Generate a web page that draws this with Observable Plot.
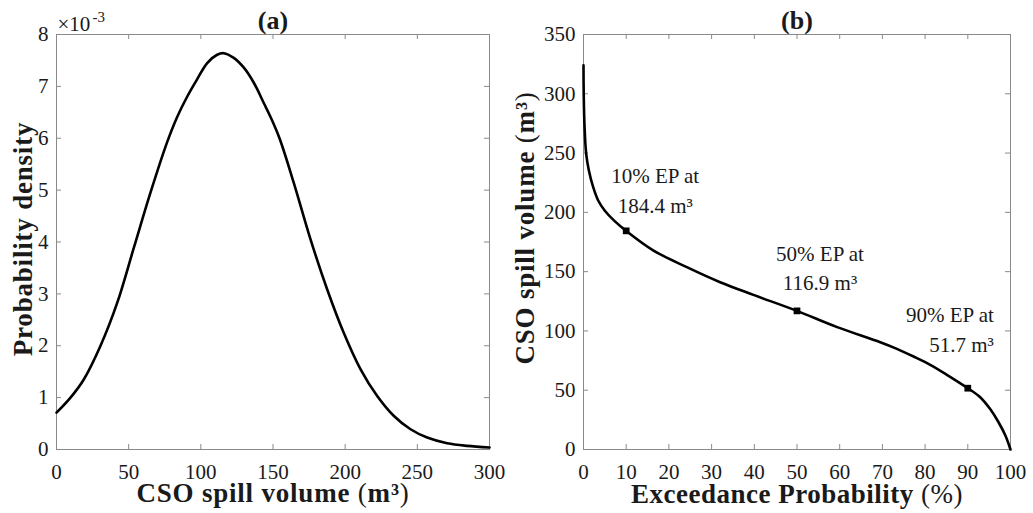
<!DOCTYPE html>
<html><head><meta charset="utf-8">
<script src="https://cdn.jsdelivr.net/npm/d3@7"></script>
<script src="https://cdn.jsdelivr.net/npm/@observablehq/plot@0.6"></script>
<style>
body{margin:0;background:#fff;}
#wrap{display:flex;width:1033px;height:513px;}
#wrap svg{flex:0 0 auto;}
#wrap svg text{font-family:"Liberation Serif","Times New Roman",serif;}
</style></head><body><div id="wrap"></div>
<script>
// ---- Panel (a): probability density of CSO spill volume ----
const pdfVolume  = [0, 9.7, 18.9, 30.5, 42.1, 53.6, 65.1, 76.6, 83.6, 90.5, 97.5, 104.4, 111.3, 115.9, 122.8, 129.8, 136.7, 143.6, 148.3, 154.5, 164.4, 176, 187.5, 199, 210.6, 222.2, 233.6, 245.3, 256.8, 270.7, 284.5, 300];
const pdfDensity = [0.00071, 0.00100, 0.00135, 0.00200, 0.00283, 0.00389, 0.00495, 0.00592, 0.00641, 0.00680, 0.00714, 0.00745, 0.00761, 0.00764, 0.00755, 0.00736, 0.00707, 0.00668, 0.00641, 0.00600, 0.00514, 0.00405, 0.00309, 0.00225, 0.00155, 0.00103, 0.00065, 0.00039, 0.00023, 0.00012, 0.00007, 0.00004];
const xTicksA = [0, 50, 100, 150, 200, 250, 300];
const yTicksA = [0, 0.001, 0.002, 0.003, 0.004, 0.005, 0.006, 0.007, 0.008];

// ---- Panel (b): exceedance probability curve ----
const exceedProb = [0, 0.05, 0.25, 0.63, 1.26, 2.27, 3.44, 5.0, 7.3, 10, 16.4, 24.2, 32.0, 39.8, 50, 59.4, 69.5, 73.4, 77.3, 81.2, 85.1, 90, 92.9, 95.2, 97.2, 98.8, 100];
const spillVol   = [324, 300, 271.8, 249.4, 235.3, 221.2, 210, 201.4, 192.6, 184.4, 167.8, 153.8, 141.1, 130.4, 116.9, 103.2, 90.5, 84.9, 78.4, 71.4, 63.0, 51.7, 44.1, 34.3, 23.0, 11.8, 0];
const markerEP  = [10, 50, 90];
const markerVol = [184.4, 116.9, 51.7];
const markerText = ["10% EP at\n184.4 m³", "50% EP at\n116.9 m³", "90% EP at\n51.7 m³"];
const xTicksB = [0, 10, 20, 30, 40, 50, 60, 70, 80, 90, 100];
const yTicksB = [0, 50, 100, 150, 200, 250, 300, 350];

const SERIF = "Liberation Serif, Times New Roman, serif";
const AXIS = "#8a8a8a";
const INK = "#1a1a1a";
const H = 513, MT = 34, MB = 64;
const FH = H - MT - MB;
const TICK = 5;

function frameTicks(xt, yt, fw) {
  return [
    Plot.tickX(xt, {x: d => d, stroke: AXIS, insetTop: FH - TICK}),
    Plot.tickX(xt, {x: d => d, stroke: AXIS, insetBottom: FH - TICK}),
    Plot.tickY(yt, {y: d => d, stroke: AXIS, insetRight: fw - TICK}),
    Plot.tickY(yt, {y: d => d, stroke: AXIS, insetLeft: fw - TICK}),
    Plot.frame({stroke: AXIS})
  ];
}
const labelStyle = {fontSize: 27, fontWeight: "bold", fill: INK, fontFamily: SERIF, textAnchor: "middle", lineAnchor: "middle"};

// Panel (a)
const WA = 508, MLA = 56, MRA = 19;
const pdfData = pdfVolume.map((v, i) => ({v, d: pdfDensity[i]}));
const plotA = Plot.plot({
  width: WA, height: H,
  marginLeft: MLA, marginRight: MRA, marginTop: MT, marginBottom: MB,
  style: {fontFamily: SERIF, background: "white", overflow: "visible"},
  x: {domain: [0, 300]},
  y: {domain: [0, 0.008]},
  marks: [
    ...frameTicks(xTicksA, yTicksA, WA - MLA - MRA),
    Plot.axisX({ticks: xTicksA, tickSize: 0, tickPadding: 15, fontSize: 21, fontFamily: SERIF, fill: INK, label: null}),
    Plot.axisY({ticks: yTicksA, tickSize: 0, tickPadding: 8, fontSize: 21, fontFamily: SERIF, fill: INK, label: null, tickFormat: d => String(Math.round(d * 1000))}),
    Plot.line(pdfData, {x: "v", y: "d", curve: "catmull-rom", stroke: "black", strokeWidth: 2.6}),
    Plot.text(["CSO spill volume (m³)"], {frameAnchor: "bottom", dy: 44, ...labelStyle}),
    Plot.text(["Probability density"], {frameAnchor: "left", rotate: -90, dx: -33, dy: -3, ...labelStyle}),
    Plot.text(["(a)"], {frameAnchor: "top", dy: -14, ...labelStyle, fontSize: 26}),
    Plot.text(["×10"], {frameAnchor: "top-left", textAnchor: "start", lineAnchor: "middle", dx: 1, dy: -10, fontSize: 21, fill: INK, fontFamily: SERIF}),
    Plot.text(["-3"], {frameAnchor: "top-left", textAnchor: "start", lineAnchor: "middle", dx: 36, dy: -17, fontSize: 15, fill: INK, fontFamily: SERIF})
  ]
});

// Panel (b)
const WB = 1033 - WA, MLB = 75, MRB = 23;
const epData = exceedProb.map((p, i) => ({p, v: spillVol[i]}));
const markers = markerEP.map((p, i) => ({p, v: markerVol[i], t: markerText[i]}));
const noteStyle = {x: "p", y: "v", text: "t", fontSize: 21, lineHeight: 1.42, fill: INK, fontFamily: SERIF};
const plotB = Plot.plot({
  width: WB, height: H,
  marginLeft: MLB, marginRight: MRB, marginTop: MT, marginBottom: MB,
  style: {fontFamily: SERIF, background: "white", overflow: "visible"},
  x: {domain: [0, 100]},
  y: {domain: [0, 350]},
  marks: [
    ...frameTicks(xTicksB, yTicksB, WB - MLB - MRB),
    Plot.axisX({ticks: xTicksB, tickSize: 0, tickPadding: 15, fontSize: 21, fontFamily: SERIF, fill: INK, label: null}),
    Plot.axisY({ticks: yTicksB, tickSize: 0, tickPadding: 8, fontSize: 21, fontFamily: SERIF, fill: INK, label: null}),
    Plot.line(epData, {x: "p", y: "v", curve: "catmull-rom", stroke: "black", strokeWidth: 2.6}),
    Plot.dot(markers, {x: "p", y: "v", symbol: "square", r: 3.8, fill: "black"}),
    Plot.text([markers[0]], {...noteStyle, dx: 29, dy: -42}),
    Plot.text([markers[1]], {...noteStyle, dx: 23, dy: -45}),
    Plot.text([markers[2]], {...noteStyle, dx: 26, dy: -61, textAnchor: "end"}),
    Plot.text(["Exceedance Probability (%)"], {frameAnchor: "bottom", dy: 45, ...labelStyle}),
    Plot.text(["CSO spill volume (m³)"], {frameAnchor: "left", rotate: -90, dx: -58, dy: -14, ...labelStyle}),
    Plot.text(["(b)"], {frameAnchor: "top", dy: -14, ...labelStyle, fontSize: 26})
  ]
});

// Typeset axis titles like the LaTeX original: bold words, upright regular parentheses.
function typeset(svg) {
  d3.select(svg).selectAll("text").each(function () {
    const s = this.textContent;
    const t = d3.select(this);
    if (s === "Exceedance Probability (%)") {
      t.text("Exceedance Probability ").style("letter-spacing", "0.5px");
      t.append("tspan").attr("font-weight", "normal").text("(%)");
    } else if (s === "CSO spill volume (m³)") {
      t.text("CSO spill volume ").style("letter-spacing", "0.8px");
      t.append("tspan").attr("font-weight", "normal").text("(");
      t.append("tspan").text("m³");
      t.append("tspan").attr("font-weight", "normal").text(")");
    } else if (s === "Probability density") {
      t.style("letter-spacing", "0.8px");
    }
  });
}
typeset(plotA);
typeset(plotB);

const wrap = document.getElementById("wrap");
wrap.appendChild(plotA);
wrap.appendChild(plotB);
</script>
</body></html>
